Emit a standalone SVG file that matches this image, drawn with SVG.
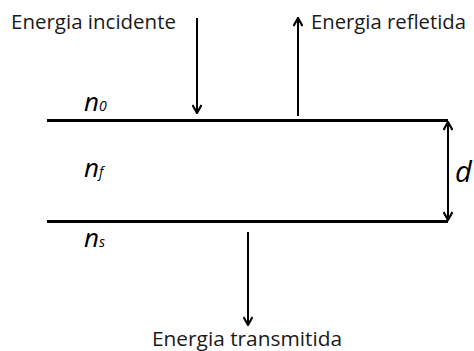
<svg xmlns="http://www.w3.org/2000/svg" width="474" height="351" viewBox="0 0 474 351">
<style>
.lbl{font-family:"Open Sans","Liberation Sans",sans-serif;font-size:20px;fill:#1a1a1a}
.n{font-family:"Open Sans","Liberation Sans",sans-serif;font-style:italic;font-size:26px;fill:#000}
.sub{font-size:14px}
.bound{stroke:#000;stroke-width:3.2}
.arr{stroke:#000;stroke-width:2;fill:none}
</style>
<defs>
<marker id="ah" viewBox="0 0 10 10" refX="9" refY="5" markerWidth="10" markerHeight="10" markerUnits="userSpaceOnUse" orient="auto-start-reverse">
<path d="M1,0.5 L9,5 L1,9.5" fill="none" stroke="#000" stroke-width="2.2"/>
</marker>
</defs>
<rect width="474" height="351" fill="#fff"/>
<g id="boundaries">
<line class="bound" x1="47" y1="120.5" x2="448" y2="120.5"/>
<line class="bound" x1="47" y1="221.5" x2="448" y2="221.5"/>
</g>
<g id="connectors">
<line class="arr" x1="197" y1="18" x2="197" y2="113" marker-end="url(#ah)"/>
<line class="arr" x1="298" y1="116" x2="298" y2="18" marker-end="url(#ah)"/>
<line class="arr" x1="248" y1="232" x2="248" y2="325" marker-end="url(#ah)"/>
<line class="arr" x1="448" y1="122" x2="448" y2="220" marker-start="url(#ah)" marker-end="url(#ah)"/>
</g>
<g id="incidente"><text class="lbl" x="11" y="29" textLength="165" lengthAdjust="spacingAndGlyphs">Energia incidente</text></g>
<g id="refletida"><text class="lbl" x="311" y="29" textLength="155" lengthAdjust="spacingAndGlyphs">Energia refletida</text></g>
<g id="transmitida"><text class="lbl" x="152" y="346" textLength="190" lengthAdjust="spacingAndGlyphs">Energia transmitida</text></g>
<g id="n0"><text class="n" x="84" y="111">n<tspan class="sub">0</tspan></text></g>
<g id="nf"><text class="n" x="84" y="177">n<tspan class="sub">f</tspan></text></g>
<g id="ns"><text class="n" x="84" y="247">n<tspan class="sub">s</tspan></text></g>
<g id="d"><text class="n" x="455" y="182" style="font-size:29px">d</text></g>
</svg>
